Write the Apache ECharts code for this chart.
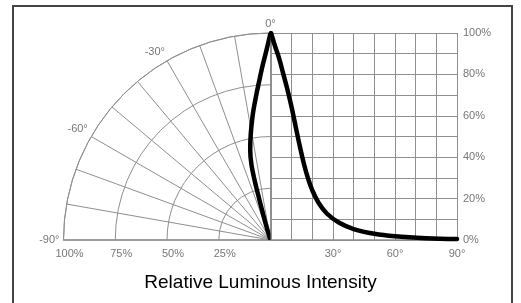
<!DOCTYPE html>
<html><head><meta charset="utf-8">
<script src="https://cdn.jsdelivr.net/npm/echarts@6/dist/echarts.min.js"></script>
<style>html,body{margin:0;padding:0;background:#fff}#c{width:521px;height:303px}</style>
</head><body><div id="c"></div>
<script>
// Tick labels
const angleTickLabels = [-90, -60, -30, 0];
const radiusTickLabels = [25, 50, 75, 100];
const xTickLabels = [30, 60, 90];
const yTickLabels = [0, 20, 40, 60, 80, 100];

// Polar (left) lobe: angle in degrees, relative intensity in %
const polarAngles = [0, -1.2, -2.7, -4.3, -6.0, -8.1, -10.7, -12.7, -14.2, -14.9, -15.3, -15.8, -16.7, -18];
const polarValues = [100, 91.8, 83.8, 75.9, 68.8, 61.0, 51.6, 44.6, 37.4, 30.0, 22.5, 15.1, 7.6, 0];

// Cartesian (right) curve: angle in degrees, relative intensity in %
const cartAngles = [0, 2, 4, 6, 8, 10, 12, 14, 16, 18, 20, 23, 27, 33, 40, 50, 60, 75, 90];
const cartValues = [100, 93.5, 87.5, 80, 72.5, 64, 54.5, 45, 36.5, 29.5, 24, 18, 12.8, 8.3, 5.3, 3.0, 1.8, 0.9, 0.5];

const labelFont = "'Liberation Sans Narrow','Liberation Sans',Arial,sans-serif";
const gridColor = '#8f8f8f';
const labelColor = '#777';

const chart = echarts.init(document.getElementById('c'), null, {renderer: 'canvas'});
chart.setOption({
  animation: false,
  backgroundColor: '#fff',
  title: {
    text: 'Relative Luminous Intensity',
    left: 'center',
    top: 268,
    textStyle: {fontSize: 19, fontWeight: 'normal', color: '#000', fontFamily: "'Liberation Sans',Arial,sans-serif"}
  },
  graphic: [{
    type: 'rect',
    shape: {x: 13, y: 6, width: 499, height: 310},
    style: {fill: 'none', stroke: '#444', lineWidth: 2},
    silent: true
  }],
  polar: {center: [270.5, 240], radius: 207},
  angleAxis: {
    type: 'value', min: -90, max: 0, interval: 10,
    startAngle: 180, endAngle: 90, clockwise: true,
    axisLine: {show: true, lineStyle: {color: gridColor, width: 1}},
    axisTick: {show: false},
    axisLabel: {
      show: true, margin: 4, color: labelColor, fontSize: 11, fontFamily: labelFont,
      formatter: v => angleTickLabels.includes(v) ? v + '°' : ''
    },
    splitLine: {show: true, lineStyle: {color: gridColor, width: 1}}
  },
  radiusAxis: {
    type: 'value', min: 0, max: 100, interval: 25,
    axisLine: {show: true, lineStyle: {color: gridColor, width: 1.5}},
    axisTick: {show: false},
    axisLabel: {
      show: true, color: labelColor, fontSize: 11, fontFamily: labelFont,
      padding: [0, 0, 0, 12],
      formatter: v => radiusTickLabels.includes(v) ? v + '%' : ''
    },
    splitLine: {show: true, lineStyle: {color: gridColor, width: 1}}
  },
  grid: {left: 271, right: 64, top: 33, bottom: 63, containLabel: false},
  xAxis: {
    type: 'value', min: 0, max: 90, interval: 10,
    axisLine: {show: true, lineStyle: {color: gridColor, width: 1.5}},
    axisTick: {show: false},
    axisLabel: {
      margin: 8, color: labelColor, fontSize: 11, fontFamily: labelFont,
      formatter: v => xTickLabels.includes(v) ? v + '°' : ''
    },
    splitLine: {show: true, lineStyle: {color: gridColor, width: 1}}
  },
  yAxis: {
    type: 'value', position: 'right', min: 0, max: 100, interval: 10,
    axisLine: {show: true, lineStyle: {color: gridColor, width: 1}},
    axisTick: {show: false},
    axisLabel: {
      margin: 6, color: labelColor, fontSize: 11, fontFamily: labelFont,
      formatter: v => yTickLabels.includes(v) ? v + '%' : ''
    },
    splitLine: {show: true, lineStyle: {color: gridColor, width: 1}}
  },
  series: [
    {
      type: 'line', coordinateSystem: 'polar', smooth: 0.4, symbol: 'none', z: 5,
      lineStyle: {color: '#000', width: 4.5, cap: 'round', join: 'round'},
      data: polarValues.map((r, i) => [r, polarAngles[i]])
    },
    {
      type: 'line', smooth: 0.4, symbol: 'none', z: 5,
      lineStyle: {color: '#000', width: 4.5, cap: 'round', join: 'round'},
      data: cartAngles.map((a, i) => [a, cartValues[i]])
    }
  ]
});
</script>
</body></html>
